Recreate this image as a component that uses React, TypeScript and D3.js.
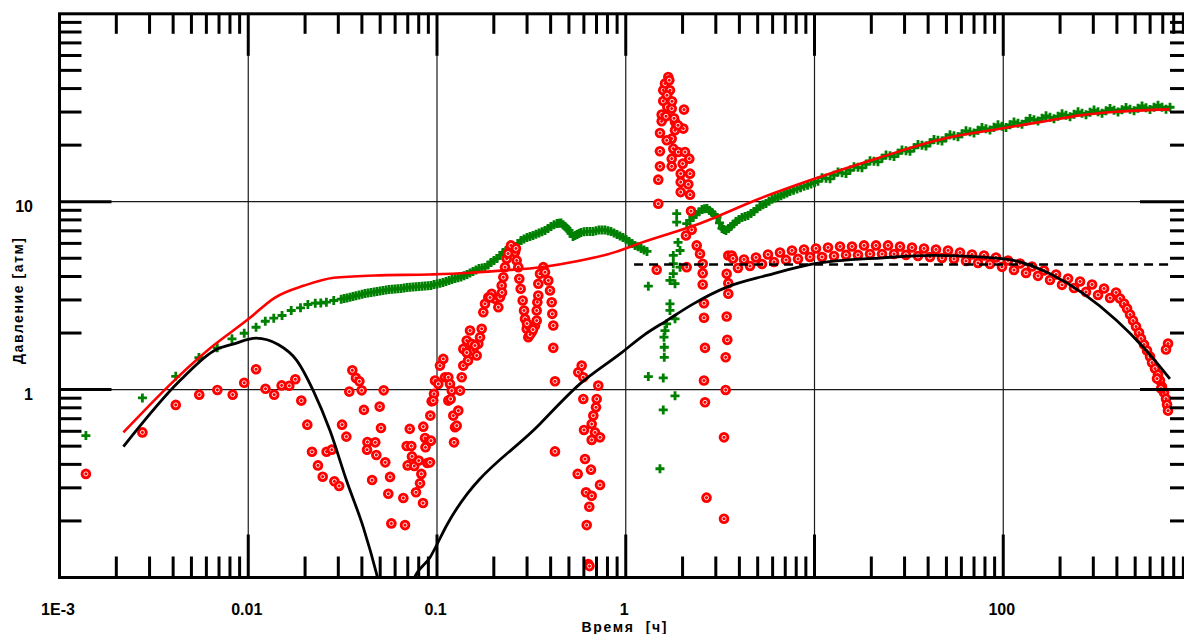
import React from "react";
import * as d3 from "d3";

// ---- data (time in hours, pressure in atm) ----
const greenPressure: [number, number][] = [
  [0.00138, 0.569], [0.00275, 0.903], [0.00413, 1.177], [0.00548, 1.481], [0.00685, 1.668], [0.0082, 1.863],
  [0.00952, 1.995], [0.011, 2.147], [0.01231, 2.311], [0.01365, 2.399], [0.0151, 2.479], [0.01689, 2.636],
  [0.01891, 2.725], [0.0207, 2.838], [0.02265, 2.884], [0.02423, 2.89], [0.02594, 2.92], [0.02838, 2.98], [0.03107, 3.03],
  [0.03336, 3.073], [0.03589, 3.13], [0.03862, 3.188], [0.04155, 3.248], [0.0447, 3.288], [0.0481, 3.328],
  [0.05175, 3.369], [0.05568, 3.41], [0.05991, 3.431], [0.06446, 3.452], [0.06935, 3.495], [0.07461, 3.516],
  [0.08028, 3.538], [0.08637, 3.56], [0.09293, 3.582], [0.1, 3.649], [0.1076, 3.717], [0.1158, 3.808],
  [0.1246, 3.903], [0.134, 3.975], [0.1442, 4.101], [0.1551, 4.253], [0.1669, 4.413], [0.1796, 4.467],
  [0.1932, 4.75], [0.2079, 4.989], [0.2237, 5.37], [0.2407, 5.64], [0.259, 5.779], [0.2787, 6.221],
  [0.2998, 6.454], [0.3226, 6.614], [0.3471, 6.823], [0.3734, 7.035], [0.4018, 7.389], [0.4323, 7.666],
  [0.4539, 7.713], [0.4767, 7.389], [0.5005, 7.035], [0.5256, 6.534], [0.5518, 6.696], [0.5794, 6.864],
  [0.6232, 6.948], [0.6706, 6.948], [0.7215, 7.077], [0.7763, 7.077], [0.8352, 6.948], [0.8987, 6.696],
  [0.9672, 6.454], [1.041, 6.145], [1.12, 5.852], [1.205, 5.64], [1.296, 5.436],
  [0.0322, 3.05], [0.0346, 3.1], [0.0372, 3.16], [0.0401, 3.22], [0.0431, 3.27], [0.0464, 3.31], [0.0499, 3.35],
  [0.0537, 3.39], [0.0578, 3.42], [0.0621, 3.44], [0.0669, 3.47], [0.0719, 3.51], [0.0774, 3.53], [0.0833, 3.55],
  [0.0896, 3.57], [0.0964, 3.62], [0.1037, 3.68], [0.1116, 3.76], [0.1201, 3.86], [0.1292, 3.94], [0.139, 4.04],
  [0.1496, 4.18], [0.1609, 4.33], [0.1731, 4.44], [0.1863, 4.61], [0.2004, 4.87], [0.2157, 5.18], [0.232, 5.5],
  [0.2497, 5.71], [0.2687, 6.0], [0.2891, 6.34], [0.311, 6.53], [0.3346, 6.72], [0.36, 6.93], [0.3873, 7.21],
  [0.4168, 7.53], [0.443, 7.69], [0.4651, 7.55], [0.4885, 7.21], [0.5129, 6.78], [0.5385, 6.61], [0.5654, 6.78],
  [0.6009, 6.91], [0.6465, 6.95], [0.6956, 7.01], [0.7484, 7.08], [0.8052, 7.01], [0.8664, 6.82], [0.9323, 6.57],
  [1.003, 6.3], [1.08, 6.0], [1.162, 5.75], [1.25, 5.54],
  [1.317, 3.55], [1.317, 1.173], [1.518, 0.379], [1.58, 0.78], [1.58, 1.154], [1.6, 1.486], [1.6, 1.68],
  [1.594, 1.9], [1.614, 2.06], [1.648, 2.24], [1.715, 2.64], [1.715, 2.86], [1.824, 2.38], [1.715, 3.81],
  [1.824, 3.66], [1.786, 4.14], [1.786, 4.68], [1.786, 5.18], [1.939, 5.5], [1.939, 4.48], [1.892, 6.07],
  [1.862, 7.79], [1.862, 8.63], [2.103, 7.64], [1.824, 0.926],
  [2.19, 7.952], [2.356, 8.558], [2.535, 9.1], [2.695, 9.212], [2.863, 8.771], [3.044, 8.248], [3.235, 7.208],
  [3.397, 7.035], [3.611, 7.389], [3.838, 7.855], [4.13, 8.248], [4.444, 8.454], [4.781, 8.88], [5.142, 9.441],
  [5.534, 9.795], [5.955, 10.29], [6.407, 10.61], [6.893, 10.94], [7.418, 11.34], [8.08, 11.7], [8.801, 12.07],
  [9.583, 12.44], [10.44, 12.83], [11.51, 13.31], [12.69, 13.81], [13.99, 14.24], [15.42, 14.69], [17.0, 15.23],
  [18.75, 15.8], [20.66, 16.4], [22.79, 17.01], [25.12, 17.54], [27.69, 18.09], [30.53, 18.65], [33.66, 19.35],
  [37.11, 19.95], [40.91, 20.58], [45.11, 21.22], [49.73, 21.88], [54.83, 22.42], [60.45, 22.98], [66.64, 23.55],
  [73.47, 23.99], [81.0, 24.43], [89.31, 24.88], [98.49, 25.19], [108.6, 25.66], [119.7, 26.14], [132.0, 26.79],
  [145.5, 27.29], [160.5, 27.79], [176.9, 28.13], [195.1, 28.48], [215.1, 28.83], [237.1, 29.19], [261.4, 29.55],
  [288.2, 29.91], [317.8, 30.1], [350.4, 30.47], [386.3, 30.66], [425.9, 30.85], [469.6, 31.03], [517.6, 31.42],
  [570.6, 31.61], [629.2, 31.81], [693.6, 31.81], [764.6, 31.81],
  [2.27, 8.25], [2.444, 8.83], [2.614, 9.16], [2.778, 8.99], [2.952, 8.51], [3.138, 7.71], [3.315, 7.12],
  [3.502, 7.21], [3.723, 7.62], [3.981, 8.05], [4.284, 8.35], [4.609, 8.66], [4.958, 9.16], [5.334, 9.62],
  [5.741, 10.04], [6.177, 10.45], [6.645, 10.77], [7.151, 11.14], [7.742, 11.52], [8.433, 11.88], [9.184, 12.25],
  [10.0, 12.63],
  [10.96, 13.4], [12.09, 13.23], [13.32, 14.37], [14.69, 14.11], [16.19, 15.33], [17.85, 15.14], [19.69, 16.5],
  [21.69, 16.3], [23.93, 17.7], [26.38, 17.38], [29.07, 18.83], [32.06, 18.54], [35.34, 20.14], [38.97, 19.77],
  [42.96, 21.42], [47.37, 21.03], [52.22, 22.7], [57.57, 22.15], [63.47, 23.84], [69.97, 23.2], [77.14, 24.81],
  [85.05, 24.06], [93.78, 25.66], [103.4, 24.81], [114.0, 26.55], [125.7, 25.83], [138.6, 27.72], [152.8, 26.88],
  [168.5, 28.66], [185.7, 27.62], [204.9, 29.37], [225.9, 28.31], [249, 30.1], [274.5, 29.02], [302.6, 30.75],
  [333.7, 29.55], [367.9, 31.33], [405.6, 30.01], [447.2, 31.71], [493.1, 30.47], [543.5, 32.3], [599.1, 30.95],
  [660.7, 32.6], [728.3, 31.05],
];

const redDerivative: [number, number][] = [
  [0.00138, 0.356], [0.00275, 0.592], [0.00413, 0.829], [0.0055, 0.94], [0.00686, 0.996], [0.00827, 0.94],
  [0.00952, 1.087], [0.011, 1.283], [0.01234, 1.01], [0.01372, 0.94], [0.01503, 1.053], [0.0165, 1.048],
  [0.01776, 1.135], [0.0191, 0.874], [0.02055, 0.651], [0.02176, 0.467], [0.0234, 0.395], [0.0248, 0.344],
  [0.026, 0.467], [0.0277, 0.479], [0.0286, 0.325], [0.0303, 0.307], [0.0314, 0.651], [0.0331, 0.562],
  [0.0343, 0.976], [0.0356, 1.267], [0.0372, 1.154], [0.0388, 1.107], [0.0399, 0.991], [0.041, 0.78],
  [0.0428, 0.526], [0.0426, 0.479], [0.0471, 0.524], [0.0477, 0.449], [0.0453, 0.33], [0.0497, 0.812],
  [0.0505, 0.625], [0.0522, 0.991], [0.0532, 0.41], [0.0564, 0.343], [0.0552, 0.279], [0.0573, 0.194],
  [0.0663, 0.265], [0.0677, 0.19], [0.0717, 0.618], [0.0691, 0.501], [0.0731, 0.501], [0.0737, 0.441],
  [0.0699, 0.395], [0.0758, 0.392], [0.08, 0.419], [0.0826, 0.356], [0.0813, 0.317], [0.0774, 0.284],
  [0.0843, 0.249], [0.0846, 0.635], [0.0888, 0.407], [0.0864, 0.553], [0.0907, 0.53], [0.0869, 0.493],
  [0.0922, 0.727], [0.0937, 0.866], [0.0964, 0.949], [0.0976, 1.117], [0.1037, 1.342], [0.108, 1.457],
  [0.1103, 1.163], [0.1148, 0.874], [0.0929, 0.535], [0.0918, 0.41], [0.0955, 0.874], [0.1016, 1.072],
  [0.1148, 1.163], [0.1172, 1.072], [0.1197, 0.988], [0.1182, 0.892], [0.122, 0.727], [0.1246, 0.63],
  [0.1231, 0.524], [0.1272, 0.643], [0.1297, 0.773], [0.1324, 0.988], [0.1352, 1.163], [0.1378, 1.342],
  [0.1378, 1.647], [0.1437, 1.824], [0.1496, 2.062], [0.1527, 1.752], [0.1557, 1.614], [0.1623, 1.518],
  [0.1655, 1.752], [0.169, 1.899], [0.1725, 2.106], [0.1759, 2.581], [0.1796, 2.862], [0.187, 3.103],
  [0.1949, 3.236], [0.2029, 3.043], [0.2113, 2.745], [0.2157, 3.103], [0.2202, 3.582], [0.2246, 3.965],
  [0.2293, 4.483], [0.2341, 4.971], [0.2437, 5.503], [0.2537, 5.731], [0.2589, 5.39], [0.2643, 4.868],
  [0.2696, 4.483], [0.2729, 3.888], [0.2775, 3.44], [0.2844, 2.98], [0.2891, 2.636], [0.2926, 2.381],
  [0.2987, 2.106], [0.3046, 1.899], [0.3175, 2.02], [0.3305, 2.193], [0.3375, 2.331], [0.3375, 2.636],
  [0.34, 2.918], [0.3441, 3.169], [0.3441, 3.658], [0.3513, 4.135], [0.3658, 4.483], [0.3734, 4.217],
  [0.3888, 3.808], [0.3969, 3.369], [0.4052, 2.918], [0.4081, 2.53], [0.4131, 2.193], [0.4131, 1.668],
  [0.4218, 1.107], [0.4218, 0.469],
  [0.1437, 1.574], [0.146, 1.427], [0.159, 1.716], [0.1909, 3.091], [0.221, 3.288], [0.2998, 2.247],
  [0.311, 1.963], [0.3226, 2.087], [0.2379, 5.3], [0.2466, 5.852], [0.262, 5.64],
  [0.5605, 1.236], [0.5843, 1.342], [0.5958, 1.163], [0.5958, 0.892], [0.7154, 1.05], [0.7015, 0.892],
  [0.6956, 0.805], [0.6731, 0.727], [0.66, 0.656], [0.6009, 0.61], [0.6875, 0.592], [0.7304, 0.557],
  [0.66, 0.54], [0.6083, 0.427], [0.6544, 0.375], [0.5564, 0.356], [0.7304, 0.311], [0.6158, 0.284],
  [0.66, 0.272], [0.641, 0.238], [0.621, 0.19], [0.6333, 0.118], [0.6425, 0.115],
  [1.459, 4.342], [1.487, 9.76], [1.487, 13.1], [1.518, 15.42], [1.518, 18.54], [1.518, 23.21], [1.55, 26.79],
  [1.55, 29.08], [1.58, 34.37], [1.58, 39.19], [1.614, 42.55], [1.68, 46.13], [1.701, 44.3], [1.66, 31.92],
  [1.752, 31.3], [1.634, 28.48], [2.035, 30.92], [1.824, 26.56], [1.862, 24.98], [1.824, 23.99], [2.018, 24.49],
  [1.752, 21.66], [1.648, 21.22], [1.786, 19.16], [1.898, 18.38], [2.06, 18.38], [1.752, 16.95], [2.171, 16.95],
  [2.003, 15.94], [1.752, 15.42], [1.955, 14.1], [2.19, 14.1], [1.955, 12.72], [2.145, 12.37], [1.955, 11.25],
  [2.19, 10.9], [2.217, 8.913], [2.236, 7.094], [2.085, 6.614], [2.103, 4.483], [1.715, 39.19], [1.654, 36.85],
  [1.802, 27.79], [1.892, 25.5], [1.758, 34.23],
  [2.376, 5.852], [2.474, 5.284], [2.557, 4.675], [2.557, 4.166], [2.557, 3.627], [2.597, 2.883], [2.597, 2.41],
  [2.629, 1.668], [2.597, 1.117], [2.629, 0.856], [2.679, 0.266], [3.494, 5.176], [3.426, 4.135], [3.494, 3.685],
  [3.494, 3.236], [3.426, 2.448], [3.451, 1.84], [3.384, 1.486], [3.384, 0.996], [3.315, 0.557], [3.315, 0.2055],
  [3.642, 5.176],
  [3.7, 4.989], [3.932, 4.44], [4.23, 4.928], [4.552, 4.55], [4.898, 5.05], [5.269, 4.66], [5.67, 5.24],
  [6.101, 4.78], [6.564, 5.37], [7.063, 4.9], [7.598, 5.503], [8.177, 4.96], [8.799, 5.571], [9.465, 5.08],
  [10.18, 5.64], [10.96, 5.08], [11.79, 5.709], [12.69, 5.14], [13.65, 5.779], [14.69, 5.21], [15.8, 5.779],
  [17.0, 5.21], [18.3, 5.852], [19.68, 5.27], [21.18, 5.852], [22.79, 5.27], [24.52, 5.852], [26.38, 5.27],
  [28.38, 5.779], [30.53, 5.21], [32.85, 5.709], [35.35, 5.14], [38.03, 5.64], [40.91, 5.08], [44.02, 5.571],
  [47.37, 5.02], [50.95, 5.503], [54.83, 4.96], [58.98, 5.37], [63.47, 4.84], [68.29, 5.24], [73.47, 4.72],
  [79.07, 5.176], [85.07, 4.66], [91.54, 5.05], [98.49, 4.5], [106.0, 4.868], [114.0, 4.33], [122.7, 4.692],
  [132.0, 4.18], [142.0, 4.522], [152.8, 4.03], [164.4, 4.305], [176.9, 3.83], [190.4, 4.101], [204.8, 3.61],
  [220.4, 3.903], [237.1, 3.47], [255.1, 3.762], [274.5, 3.31], [295.4, 3.627], [317.8, 3.19], [342.0, 3.452],
  [367.9, 3.07], [395.9, 3.288], [415.6, 3.054], [436.4, 2.872], [452.7, 2.701], [469.6, 2.51], [487.0, 2.331],
  [505.2, 2.166], [524.0, 2.012], [536.9, 1.869], [556.9, 1.737], [577.7, 1.614], [599.2, 1.499], [614.0, 1.393],
  [636.8, 1.294], [660.6, 1.202], [676.9, 1.117], [693.6, 1.037], [710.8, 0.964], [728.3, 0.895], [737.3, 0.832],
  [746.4, 0.773], [746.4, 1.758], [728.3, 1.634], [685.2, 1.012], [652.6, 1.144],
];

const modelPressure: [number, number][] = [
  [0.00218, 0.592], [0.00612, 1.627], [0.01006, 2.38], [0.0138, 3.08], [0.0198, 3.58], [0.0284, 3.94],
  [0.0467, 4.05], [0.0918, 4.1], [0.144, 4.17], [0.226, 4.31], [0.356, 4.48], [0.558, 4.83], [0.877, 5.39],
  [1.19, 6.02], [2.47, 7.66], [5.14, 10.41], [9.47, 13.0], [22.2, 17.2], [50.1, 21.8], [99.7, 24.6],
  [170, 26.9], [255, 28.8], [383, 30.0], [764, 31.0],
];

const modelDerivativeEarly: [number, number][] = [
  [0.00218, 0.497], [0.00435, 1.117], [0.0067, 1.627], [0.0084, 1.752], [0.011, 1.877], [0.0144, 1.737],
  [0.0181, 1.427], [0.0221, 0.988], [0.0271, 0.605], [0.0332, 0.327], [0.0407, 0.1847], [0.0479, 0.1042],
  [0.0511, 0.08],
];

const modelDerivativeLate: [number, number][] = [
  [0.0702, 0.08], [0.0749, 0.0969], [0.0918, 0.1278], [0.113, 0.191], [0.351, 0.656], [0.572, 1.072],
  [0.932, 1.549], [1.239, 1.94], [1.648, 2.33], [2.28, 2.86], [3.43, 3.51], [5.58, 4.05], [9.85, 4.67],
  [23.1, 5.03], [42.6, 5.18], [78.4, 5.07], [118, 4.83], [177, 4.13], [266, 3.24], [399, 2.33], [552, 1.68],
  [764, 1.14],
];

const radialFlowLevel = 4.63;
const radialFlowSpan = [1.107, 765];

const xLabelValues = [0.001, 0.01, 0.1, 1, 100];
const xLabelTexts = ["1E-3", "0.01", "0.1", "1", "100"];
const yLabelValues = [1, 10];
const yLabelTexts = ["1", "10"];
const xTitle = "Время  [ч]";
const yTitle = "Давление [атм]";

const FONT = "'Liberation Sans', Arial, Helvetica, sans-serif";

export default function App() {
  const L = 59.5, R = 1192, T = 13.8, B = 577.5;
  const x = d3.scaleLog().domain([1e-3, 1e3]).range([L, R]);
  const y = d3.scaleLog().domain([0.1, 100]).range([B, T]);
  const line = d3.line<[number, number]>().x((d) => x(d[0])).y((d) => y(d[1])).curve(d3.curveMonotoneX);

  const isMajor = (v: number) => Math.abs(Math.log10(v) - Math.round(Math.log10(v))) < 1e-9;
  const xTicks = x.ticks().filter((v) => v > 1e-3 * 1.0001 && v < 1e3 * 0.9999);
  const yTicks = y.ticks().filter((v) => v > 0.1 * 1.0001 && v < 100 * 0.9999);

  return (
    <svg width={1184} height={634} style={{ position: "absolute", left: 0, top: 0, background: "#fff" }} fontFamily={FONT}>
      <defs>
        <clipPath id="plotClip">
          <rect x={L} y={T} width={R - L} height={B - T} />
        </clipPath>
      </defs>
      <rect x={0} y={0} width={1184} height={634} fill="#fff" />
      {/* grid */}
      <g stroke="#1a1a1a" strokeWidth={1.2}>
        {xTicks.filter(isMajor).map((v) => (
          <line key={"gx" + v} x1={x(v)} x2={x(v)} y1={T} y2={B} />
        ))}
        {yTicks.filter(isMajor).map((v) => (
          <line key={"gy" + v} x1={L} x2={R} y1={y(v)} y2={y(v)} />
        ))}
      </g>
      <g clipPath="url(#plotClip)">
        {/* green pressure markers */}
        <g stroke="#008000" strokeWidth={2.8} fill="none">
          {greenPressure.map((d, i) => (
            <path key={"g" + i} d={`M${x(d[0]) - 4.5},${y(d[1])}h9M${x(d[0])},${y(d[1]) - 4.5}v9`} />
          ))}
        </g>
        {/* red derivative markers */}
        <g>
          {redDerivative.map((d, i) => (
            <g key={"r" + i} transform={`translate(${x(d[0])},${y(d[1])})`}>
              <circle r={5.3} fill="#ff0000" />
              <circle r={2} fill="none" stroke="#ffffff" strokeWidth={0.9} />
            </g>
          ))}
        </g>
        <path d={line(modelPressure) || ""} fill="none" stroke="#ff0000" strokeWidth={2.6} />
        <path d={line(modelDerivativeEarly) || ""} fill="none" stroke="#000" strokeWidth={2.8} />
        <path d={line(modelDerivativeLate) || ""} fill="none" stroke="#000" strokeWidth={2.8} />
        <line
          x1={x(radialFlowSpan[0])}
          x2={x(radialFlowSpan[1])}
          y1={y(radialFlowLevel)}
          y2={y(radialFlowLevel)}
          stroke="#000"
          strokeWidth={2.6}
          strokeDasharray="9,6"
        />
      </g>
      {/* ticks */}
      <g stroke="#000" strokeWidth={3}>
        {xTicks.map((v) => (
          <g key={"tx" + v}>
            <line x1={x(v)} x2={x(v)} y1={B} y2={B - (isMajor(v) ? 43 : 21)} />
            <line x1={x(v)} x2={x(v)} y1={T} y2={T + (isMajor(v) ? 42 : 20)} />
          </g>
        ))}
        {yTicks.map((v) => (
          <g key={"ty" + v}>
            <line x1={L} x2={L + (isMajor(v) ? 52 : 22)} y1={y(v)} y2={y(v)} />
            <line x1={R} x2={R - (isMajor(v) ? 52 : 22)} y1={y(v)} y2={y(v)} />
          </g>
        ))}
      </g>
      <rect x={L} y={T} width={R - L} height={B - T} fill="none" stroke="#000" strokeWidth={3} />
      {/* labels */}
      <g fontSize={16} fontWeight="bold" fill="#000">
        {xLabelValues.map((v, i) => (
          <text key={"lx" + v} x={x(v) - 1.5} y={615} textAnchor="middle">
            {xLabelTexts[i]}
          </text>
        ))}
        {yLabelValues.map((v, i) => (
          <text key={"ly" + v} x={33} y={y(v) + 10.5} textAnchor="end">
            {yLabelTexts[i]}
          </text>
        ))}
      </g>
      <text
        x={624}
        y={632}
        textAnchor="middle"
        fontSize={14}
        fontWeight="bold"
        textLength={85}
        lengthAdjust="spacing"
        style={{ whiteSpace: "pre" }}
      >
        {xTitle}
      </text>
      <text
        transform="translate(23,301) rotate(-90)"
        textAnchor="middle"
        fontSize={14}
        fontWeight="bold"
        textLength={126}
        lengthAdjust="spacing"
      >
        {yTitle}
      </text>
    </svg>
  );
}
